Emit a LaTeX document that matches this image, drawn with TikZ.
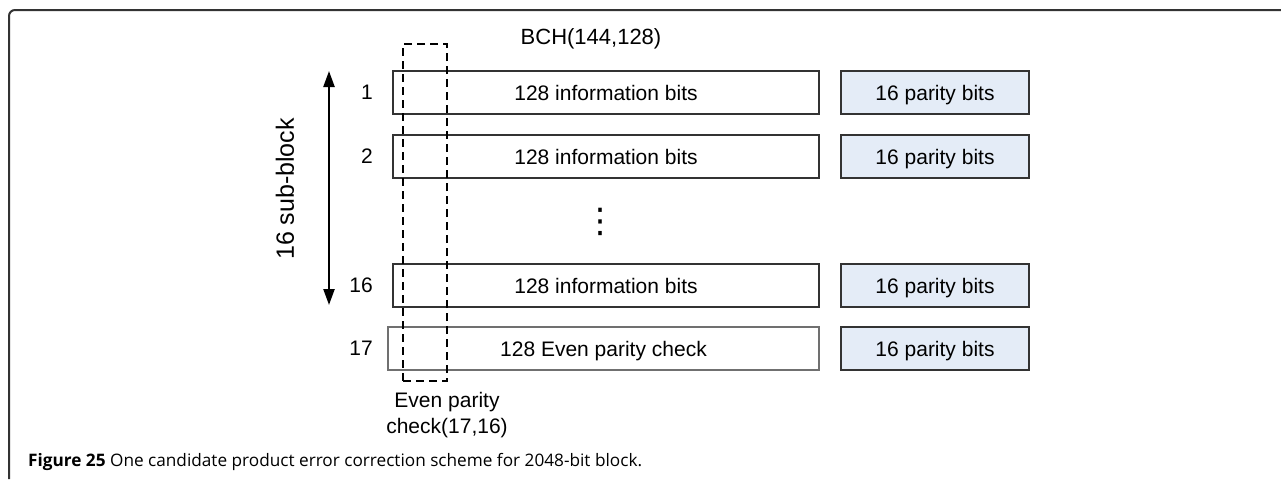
\documentclass[tikz,border=0pt]{standalone}
\usepackage{fontspec}
\setmainfont{Liberation Sans}
\newfontfamily\capfont{Open Sans}
\newfontfamily\symfont{DejaVu Sans}
\usetikzlibrary{arrows.meta,positioning,calc}
\definecolor{parityblue}{HTML}{E4ECF7}
\definecolor{frameline}{HTML}{333333}

\begin{document}
\begin{tikzpicture}[x=1pt, y=-1pt,
    every node/.style={font=\fontsize{21}{26}\selectfont, inner sep=0pt},
    infobox/.style={draw=frameline, line width=1.2pt, minimum width=426pt, minimum height=43pt, text height=15pt, text depth=0pt},
    paritybox/.style={draw=frameline, line width=1.2pt, fill=parityblue, minimum width=188pt, minimum height=43pt, text height=15pt, text depth=0pt},
    rownum/.style={anchor=east},
    checkbox/.style={draw, dash pattern=on 8pt off 5pt, line width=1.3pt, minimum width=44pt, minimum height=337pt}]
  \useasboundingbox (0,0) rectangle (1281,479);
  % frame
  \draw[frameline, line width=2pt, rounded corners=6pt] (9,479) -- (9,10) -- (1282,10);

  % rows
  \node[infobox] (info1) at (606,92.5) {128 information bits};
  \node[infobox] (info2) at (606,156.5) {128 information bits};
  \node[infobox] (info16) at (606,285.5) {128 information bits};
  \node[infobox, minimum width=431pt, draw=frameline!70] (info17) at (603.5,348.5) {128 Even parity check};
  \node[paritybox] (par1) at (935,92.5) {16 parity bits};
  \node[paritybox] (par2) at (935,156.5) {16 parity bits};
  \node[paritybox] (par16) at (935,285.5) {16 parity bits};
  \node[paritybox] (par17) at (935,348.5) {16 parity bits};
  \node[rownum] (n1) at (373,92.5) {1};
  \node[rownum] (n2) at (373,156.5) {2};
  \node[rownum] (n16) at (373,285.5) {16};
  \node[rownum] (n17) at (373,348.5) {17};
  \node[font=\symfont\fontsize{34}{34}\selectfont] (dots) at (600,222) {⋮};
  \node[font=\fontsize{22}{26}\selectfont] (bch) at (591,39) {BCH(144,128)};

  % column check
  \node[checkbox] (epc) at (425,212.5) {};
  \node[align=center] (epclabel) at (447,415) {Even parity\\check(17,16)};

  % sub-block arrow
  \coordinate (arrtop) at (329,71);
  \coordinate (arrbot) at (329,305);
  \draw[{Triangle[length=16pt,width=11pt]}-{Triangle[length=16pt,width=11pt]}, line width=2.3pt] (arrtop) -- (arrbot);
  \node[rotate=90, font=\fontsize{25}{30}\selectfont] (sublabel) at (285,189) {16 sub-block};

  % caption
  \node[anchor=west, font=\capfont\fontsize{17.2}{20}\selectfont] (caption) at (28,462) {\textbf{Figure 25} One candidate product error correction scheme for 2048-bit block.};
\end{tikzpicture}
\end{document}
